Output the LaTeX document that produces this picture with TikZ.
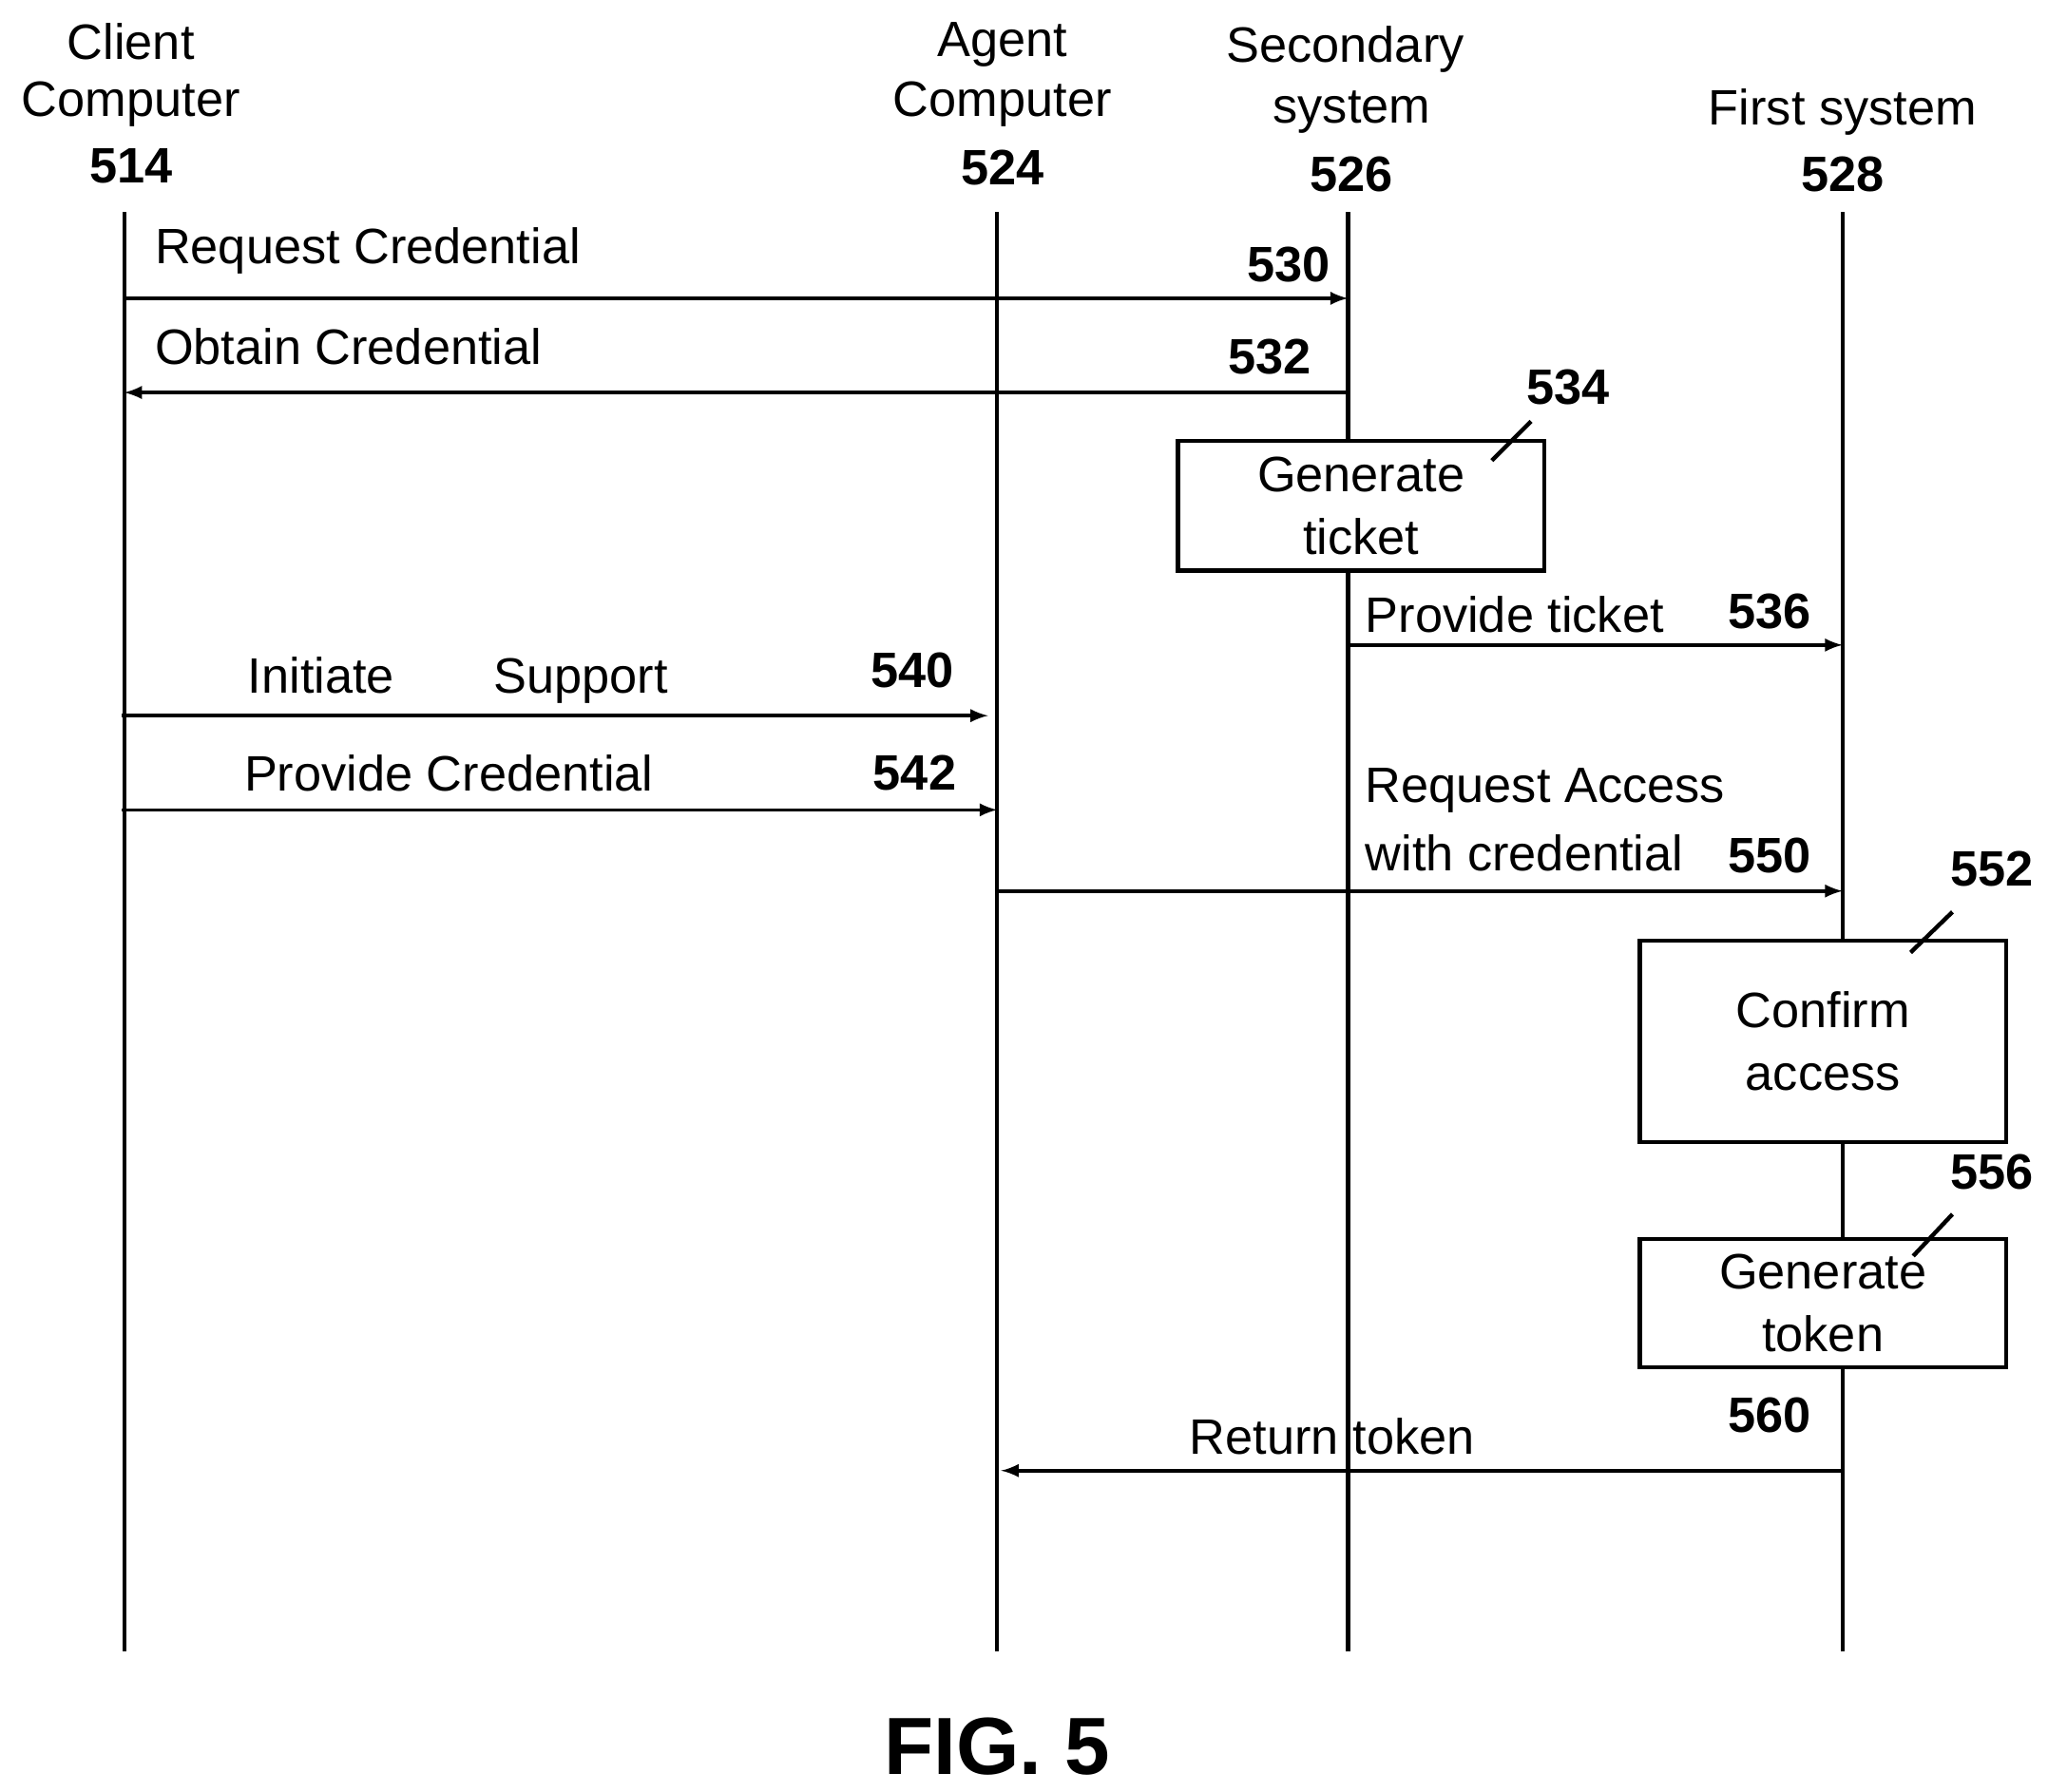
\documentclass[tikz,border=0pt]{standalone}
\usepackage{fontspec}
\setmainfont{Liberation Sans}
\begin{document}
\begin{tikzpicture}[x=0.5pt,y=-0.5pt,
  lbl/.style={font=\fontsize{19}{22}\selectfont,inner sep=0pt},
  num/.style={font=\fontsize{19}{22}\selectfont\bfseries,inner sep=0pt},
  box/.style={draw,line width=1.6pt,fill=white,font=\fontsize{19}{24}\selectfont,align=center,inner sep=0pt},
  ln/.style={line width=1.6pt},
  arr/.style={line width=1.3pt,-latex}]
\useasboundingbox (0,0) rectangle (1565,1369);
% headers
\node[lbl] (h1a) at (100,32) {Client};
\node[lbl] (h1b) at (100,80) {Computer};
\node[num] (h1c) at (100,127) {514};
\node[lbl] (h2a) at (766,34) {Agent};
\node[lbl] (h2b) at (766,80) {Computer};
\node[num] (h2c) at (766,128) {524};
\node[lbl] (h3a) at (1028,38) {Secondary};
\node[lbl] (h3b) at (1033,86) {system};
\node[num] (h3c) at (1033,133) {526};
\node[lbl] (h4a) at (1408,86) {First system};
\node[num] (h4c) at (1408,133) {528};
% lifelines
\foreach \n/\x in {A/95,B/762,C/1030,D/1408}{
  \coordinate (\n t) at (\x,162); \coordinate (\n b) at (\x,1262);
  \draw[ln] (\n t) -- (\n b);}
% coordinates for arrows
\coordinate (a1s) at (95,228); \coordinate (a1e) at (1030,228);
\coordinate (a2s) at (1030,300); \coordinate (a2e) at (95,300);
\coordinate (a3s) at (1030,493); \coordinate (a3e) at (1408,493);
\coordinate (a4s) at (93,547); \coordinate (a4e) at (755,547);
\coordinate (a5s) at (93,619); \coordinate (a5e) at (762,619);
\coordinate (a6s) at (762,681); \coordinate (a6e) at (1408,681);
\coordinate (a7s) at (1408,1124); \coordinate (a7e) at (765,1124);
\draw[arr] (a1s) -- (a1e);
\draw[arr] (a2s) -- (a2e);
\draw[arr] (a3s) -- (a3e);
\draw[arr] (a4s) -- (a4e);
\draw[arr] (a5s) -- (a5e);
\draw[arr] (a6s) -- (a6e);
\draw[arr] (a7s) -- (a7e);
% arrow labels
\node[lbl,anchor=west] (t1) at (118,192) {Request Credential};
\node[num] (n530) at (985,202) {530};
\node[lbl,anchor=west] (t2) at (118,265) {Obtain Credential};
\node[num] (n532) at (970,273) {532};
\node[lbl,anchor=west] (t3) at (1043,470) {Provide ticket};
\node[num] (n536) at (1352,467) {536};
\node[lbl] (t4) at (350,520) {Initiate\hspace{2em}Support};
\node[num] (n540) at (697,512) {540};
\node[lbl] (t5) at (343,591) {Provide Credential};
\node[num] (n542) at (699,591) {542};
\node[lbl,anchor=west] (t6a) at (1043,604) {Request Access};
\node[lbl,anchor=west] (t6b) at (1043,652) {with credential};
\node[num] (n550) at (1352,654) {550};
\node[lbl] (t7) at (1018,1098) {Return token};
\node[num] (n560) at (1352,1082) {560};
% boxes
\node[box,minimum width=140pt,minimum height=49.5pt] (b534) at (1040,386.5) {Generate\\ticket};
\node[box,minimum width=140pt,minimum height=77pt] (b552) at (1393,796) {Confirm\\access};
\node[box,minimum width=140pt,minimum height=49pt] (b556) at (1393,996) {Generate\\token};
\node[num] (n534) at (1198,296) {534};
\node[num] (n552) at (1522,664) {552};
\node[num] (n556) at (1522,896) {556};
\coordinate (l1a) at (1140,352); \coordinate (l1b) at (1170,322);
\coordinate (l2a) at (1460,728); \coordinate (l2b) at (1492,697);
\coordinate (l3a) at (1462,960); \coordinate (l3b) at (1492,928);
\draw[ln] (l1a) -- (l1b);
\draw[ln] (l2a) -- (l2b);
\draw[ln] (l3a) -- (l3b);
\node[font=\fontsize{31}{36}\selectfont\bfseries,inner sep=0pt] (fig) at (762,1335) {FIG. 5};
\end{tikzpicture}
\end{document}
